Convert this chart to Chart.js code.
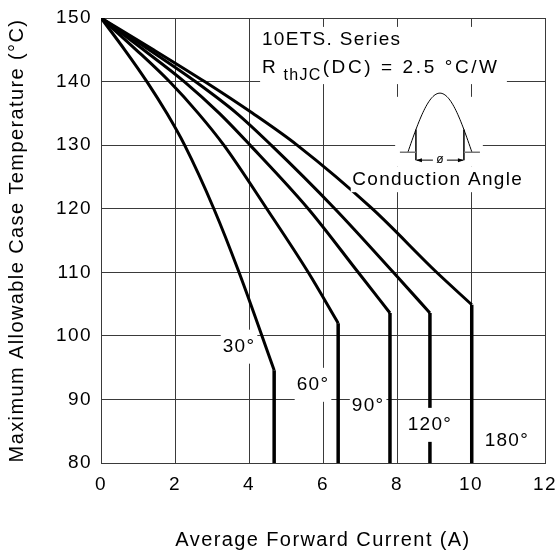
<!DOCTYPE html>
<html>
<head>
<meta charset="utf-8">
<script src="https://cdn.jsdelivr.net/npm/chart.js@4.4.0/dist/chart.umd.min.js"></script>
<style>
    html, body { margin: 0; padding: 0; background: #fff; }
    #wrap { width: 558px; height: 550px; }
</style>
</head>
<body>
<div id="wrap"><canvas id="chart" width="558" height="550"></canvas></div>
<script>
// Max allowable case temperature vs average forward current (10ETS series)
const tempLevels = [150, 145, 140, 135, 130, 120, 110];
const angleLabels = ['30°', '60°', '90°', '120°', '180°'];
const current30 = [0, 0.64, 1.24, 1.78, 2.26, 3.05, 3.73];
const current60 = [0, 0.95, 1.85, 2.63, 3.32, 4.48, 5.60];
const current90 = [0, 1.15, 2.25, 3.20, 4.03, 5.60, 6.95];
const current120 = [0, 1.30, 2.55, 3.67, 4.60, 6.32, 7.90];
const current180 = [0, 1.42, 2.80, 4.10, 5.30, 7.33, 9.07];
// knee where each curve turns into a vertical drop to the bottom
const kneeCurrent = [4.68, 6.41, 7.81, 8.89, 10.02];
const kneeTemp = [94.6, 102.0, 103.6, 103.6, 104.9];
const xTicks = [0, 2, 4, 6, 8, 10, 12];
const yTicks = [80, 90, 100, 110, 120, 130, 140, 150];

// where the angle labels sit (data units)
const labelSpots = [[3.73, 98.3], [5.73, 92.3], [7.22, 89.0], [8.89, 86.0], [10.97, 83.5]];

const FONT = '"Liberation Sans", Arial, sans-serif';
const GRID = '#3a3a3a';

const curves = [current30, current60, current90, current120, current180];
const datasets = [];
curves.forEach((cur, i) => {
    const pts = cur.map((x, j) => ({ x: x, y: tempLevels[j] }));
    pts.push({ x: kneeCurrent[i], y: kneeTemp[i] });
    datasets.push({
        label: angleLabels[i],
        data: pts,
        borderColor: '#000',
        borderWidth: 3,
        pointRadius: 0,
        cubicInterpolationMode: 'monotone',
        fill: false
    });
    // vertical drop after the knee
    datasets.push({
        label: angleLabels[i] + ' limit',
        data: [{ x: kneeCurrent[i], y: kneeTemp[i] }, { x: kneeCurrent[i], y: 80 }],
        borderColor: '#000',
        borderWidth: 3.5,
        pointRadius: 0,
        fill: false
    });
});

const spacingPlugin = {
    id: 'spacing',
    beforeDraw(chart) { chart.ctx.letterSpacing = '1.4px'; },
    afterDraw(chart) { chart.ctx.letterSpacing = '0px'; }
};

function whiteBox(ctx, x1, y1, x2, y2) {
    ctx.fillStyle = '#fff';
    ctx.fillRect(x1, y1, x2 - x1, y2 - y1);
}

const notesPlugin = {
    id: 'notes',
    afterDatasetsDraw(chart) {
        const ctx = chart.ctx;
        const xs = chart.scales.x, ys = chart.scales.y;
        const X = v => xs.getPixelForValue(v);
        const Y = v => ys.getPixelForValue(v);
        ctx.save();
        ctx.letterSpacing = '1.3px';
        ctx.textBaseline = 'middle';

        // angle labels with white backing
        ctx.font = '19px ' + FONT;
        ctx.textAlign = 'center';
        labelSpots.forEach((p, i) => {
            const cx = X(p[0]), cy = Y(p[1]);
            const w = ctx.measureText(angleLabels[i]).width;
            whiteBox(ctx, cx - w / 2 - 2, cy - 17, cx + w / 2 + 2, cy + 17);
            ctx.fillStyle = '#000';
            ctx.fillText(angleLabels[i], cx, cy);
        });

        // series note
        whiteBox(ctx, X(4.3), Y(148.6), X(10.97), Y(139.6));
        ctx.textAlign = 'left';
        ctx.fillStyle = '#000';
        ctx.font = '19px ' + FONT;
        let tx = X(4.35);
        ctx.fillText('10ETS. Series', tx, Y(146.5));
        const lineY = Y(142.1);
        ctx.fillText('R', tx, lineY);
        tx += ctx.measureText('R ').width;
        ctx.font = '16px ' + FONT;
        ctx.fillText('thJC', tx, lineY + 7);
        tx += ctx.measureText('thJC').width + 1;
        ctx.font = '19px ' + FONT;
        ctx.letterSpacing = '2.6px';
        ctx.fillText('(DC) = 2.5 °C/W', tx, lineY);
        ctx.letterSpacing = '1.3px';

        // conduction angle sketch
        whiteBox(ctx, X(7.95), Y(137.6), X(10.32), Y(126.6));
        whiteBox(ctx, X(6.75), Y(126.6), X(11.49), Y(122.6));
        const cx = X(9.16), base = Y(128.9);
        ctx.strokeStyle = '#000';
        ctx.lineWidth = 1;
        ctx.beginPath();
        for (let i = 0; i <= 64; i++) {
            const px = cx - 32 + i;
            const py = base - 59 * Math.sin(Math.PI * i / 64);
            if (i === 0) ctx.moveTo(px, py); else ctx.lineTo(px, py);
        }
        ctx.stroke();
        ctx.lineWidth = 1.5;
        ctx.beginPath();
        ctx.moveTo(cx - 24, base - 59 * Math.sin(Math.PI * 8 / 64));
        ctx.lineTo(cx - 24, base + 8);
        ctx.moveTo(cx + 24, base - 59 * Math.sin(Math.PI * 56 / 64));
        ctx.lineTo(cx + 24, base + 8);
        ctx.stroke();
        ctx.strokeStyle = '#777';
        ctx.lineWidth = 1.5;
        ctx.beginPath();
        ctx.moveTo(cx - 40, base); ctx.lineTo(cx - 24, base);
        ctx.moveTo(cx + 24, base); ctx.lineTo(cx + 40, base);
        ctx.stroke();
        // arrows
        const ay = base + 8;
        ctx.strokeStyle = '#000';
        ctx.lineWidth = 1;
        ctx.beginPath();
        ctx.moveTo(cx - 23, ay); ctx.lineTo(cx - 7, ay);
        ctx.moveTo(cx + 7, ay); ctx.lineTo(cx + 23, ay);
        ctx.stroke();
        ctx.fillStyle = '#000';
        ctx.beginPath();
        ctx.moveTo(cx - 24, ay); ctx.lineTo(cx - 18, ay - 2); ctx.lineTo(cx - 18, ay + 2); ctx.closePath();
        ctx.moveTo(cx + 24, ay); ctx.lineTo(cx + 18, ay - 2); ctx.lineTo(cx + 18, ay + 2); ctx.closePath();
        ctx.fill();
        ctx.font = '12px ' + FONT;
        ctx.textAlign = 'center';
        ctx.letterSpacing = '0px';
        ctx.fillText('ø', cx, ay);
        ctx.letterSpacing = '1.3px';
        ctx.font = '19px ' + FONT;
        ctx.fillText('Conduction Angle', X(9.1), Y(124.5));
        ctx.restore();
    }
};

new Chart(document.getElementById('chart').getContext('2d'), {
    type: 'line',
    data: { datasets: datasets },
    options: {
        responsive: false,
        animation: false,
        layout: { padding: { top: 18, right: 13, bottom: 0, left: 0 } },
        plugins: {
            legend: { display: false },
            tooltip: { enabled: false }
        },
        scales: {
            x: {
                type: 'linear',
                min: 0,
                max: 12,
                afterBuildTicks: (s) => { s.ticks = xTicks.map(v => ({ value: v })); },
                afterFit: (s) => { s.height = 87; s.paddingRight = 0; s.paddingLeft = 0; },
                grid: { color: GRID, lineWidth: 1, drawTicks: false },
                border: { color: GRID },
                ticks: { color: '#000', padding: 10, maxRotation: 0, font: { family: FONT, size: 19 } },
                title: {
                    display: true,
                    text: 'Average Forward Current (A)',
                    color: '#000',
                    font: { family: FONT, size: 20 },
                    padding: { top: 0, bottom: -2 }
                }
            },
            y: {
                type: 'linear',
                min: 80,
                max: 150,
                afterBuildTicks: (s) => { s.ticks = yTicks.map(v => ({ value: v })); },
                afterFit: (s) => { s.width = 101; s.paddingTop = 0; s.paddingBottom = 0; },
                grid: { color: GRID, lineWidth: 1, drawTicks: false },
                border: { color: GRID },
                ticks: { color: '#000', padding: 9, font: { family: FONT, size: 19 } },
                title: {
                    display: true,
                    text: 'Maximum Allowable Case Temperature (°C)',
                    color: '#000',
                    font: { family: FONT, size: 20 },
                    padding: { top: 5, bottom: 0 }
                }
            }
        }
    },
    plugins: [spacingPlugin, notesPlugin]
});
</script>
</body>
</html>
